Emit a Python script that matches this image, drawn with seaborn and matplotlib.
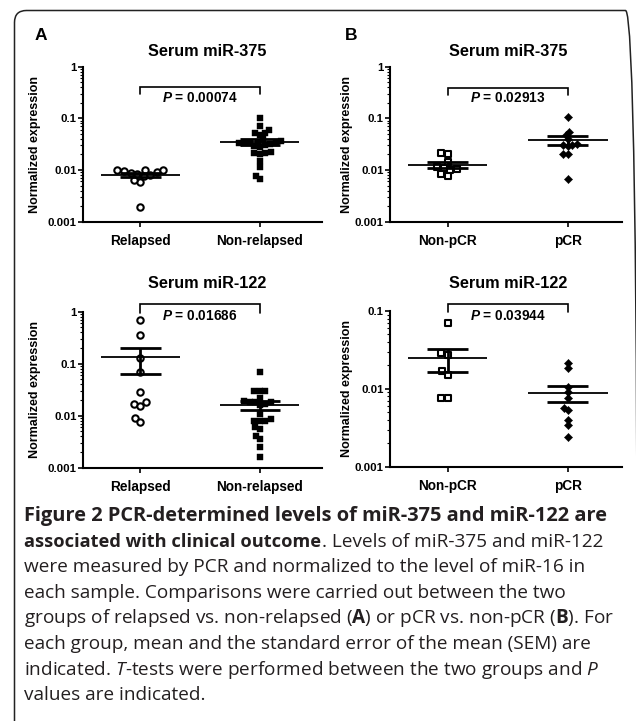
import warnings
warnings.filterwarnings("ignore")
import numpy as np
import pandas as pd
import matplotlib
matplotlib.use("Agg")
import matplotlib.pyplot as plt
import matplotlib.transforms as mtransforms
from matplotlib.patches import FancyBboxPatch
from matplotlib.ticker import LogLocator, NullFormatter
import seaborn as sns

# ---------------- data ----------------
groups_a = ["Relapsed", "Non-relapsed"]
groups_b = ["Non-pCR", "pCR"]

mir375_relapsed = [0.0019, 0.0058, 0.0065, 0.0075, 0.0080, 0.0085, 0.0088,
                   0.0090, 0.0095, 0.0098, 0.0100, 0.0102]
mir375_nonrelapsed = [0.102, 0.072, 0.059, 0.052, 0.051, 0.047, 0.039, 0.036,
                      0.035, 0.034, 0.034, 0.033, 0.033, 0.032, 0.031, 0.029,
                      0.028, 0.022, 0.021, 0.021, 0.020, 0.015, 0.0115, 0.0078,
                      0.0067]
mir122_relapsed = [0.69, 0.35, 0.13, 0.068, 0.028, 0.018, 0.0165, 0.0156,
                   0.0092, 0.0075]
mir122_nonrelapsed = [0.068, 0.030, 0.030, 0.030, 0.022, 0.019, 0.018, 0.018,
                      0.018, 0.017, 0.016, 0.011, 0.0085, 0.008, 0.008, 0.0078,
                      0.006, 0.0055, 0.0041, 0.0035, 0.0025, 0.0016]
mir375_nonpcr = [0.021, 0.020, 0.014, 0.0115, 0.011, 0.0105, 0.010, 0.0083, 0.0076]
mir375_pcr = [0.105, 0.055, 0.048, 0.040, 0.032, 0.031, 0.030, 0.029, 0.020,
              0.020, 0.0066]
mir122_nonpcr = [0.0695, 0.029, 0.027, 0.017, 0.015, 0.0077, 0.0076]
mir122_pcr = [0.0217, 0.0185, 0.0106, 0.0092, 0.0076, 0.0057, 0.0054, 0.0040,
              0.0034, 0.0024]

titles = ["Serum miR-375", "Serum miR-122"]
panel_letters = ["A", "B"]
p_values = ["0.00074", "0.02913", "0.01686", "0.03944"]
ticks_3dec = [0.001, 0.01, 0.1, 1]
ticklabels_3dec = ["0.001", "0.01", "0.1", "1"]
ticks_2dec = [0.001, 0.01, 0.1]
ticklabels_2dec = ["0.001", "0.01", "0.1"]
y_label = "Normalized expression"

# caption: each line is a list of (text, is_heading) segments
caption_lines = [
    [("Figure 2 PCR-determined levels of miR-375 and miR-122 are", True)],
    [("associated with clinical outcome", True), (". Levels of miR-375 and miR-122", False)],
    [("were measured by PCR and normalized to the level of miR-16 in", False)],
    [("each sample. Comparisons were carried out between the two", False)],
    [(r"groups of relapsed vs. non-relapsed ($\mathbf{A}$) or pCR vs. non-pCR ($\mathbf{B}$). For", False)],
    [("each group, mean and the standard error of the mean (SEM) are", False)],
    [(r"indicated. $\mathit{T}$-tests were performed between the two groups and $\mathit{P}$", False)],
    [("values are indicated.", False)],
]

# ---------------- style ----------------
sns.set_theme(style="ticks")
plt.rcParams["font.family"] = ["Liberation Sans", "DejaVu Sans"]
plt.rcParams["mathtext.fontset"] = "custom"
plt.rcParams["mathtext.rm"] = "Open Sans"
plt.rcParams["mathtext.sf"] = "Open Sans"
plt.rcParams["mathtext.it"] = "Open Sans:italic"
plt.rcParams["mathtext.bf"] = "Open Sans:bold"
try:
    plt.rcParams["mathtext.bfit"] = "Liberation Sans:italic:bold"
    P_TXT = r"$\mathbfit{P}$"
except Exception:
    P_TXT = r"$\mathit{P}$"

W, H = 636, 721
fig = plt.figure(figsize=(W / 100, H / 100), dpi=100)
fig.patch.set_facecolor("white")

SWARM_LAYOUT_FACTOR = 0.7
swarm_collections = []


def fx(px):
    return px / W


def fy(py):
    return 1 - py / H


def make_ax(left, right, top, bottom):
    return fig.add_axes([fx(left), fy(bottom), (right - left) / W, (bottom - top) / H])


def draw_panel(ax, groups, v0, v1, styles, ticks, ticklabels, pval, bracket, xlim, ylab_x):
    df = pd.DataFrame({"group": [groups[0]] * len(v0) + [groups[1]] * len(v1),
                       "value": list(v0) + list(v1)})
    for g, st in zip(groups, styles):
        sub = df[df["group"] == g]
        st = dict(st)
        disp_size = st.pop("size")
        n_before = len(ax.collections)
        sns.swarmplot(data=sub, x="group", y="value", order=groups, ax=ax,
                      log_scale=True, zorder=2, size=disp_size * SWARM_LAYOUT_FACTOR, **st)
        for coll in ax.collections[n_before:]:
            swarm_collections.append((coll, disp_size))
    ax.set_yscale("log")
    ax.set_ylim(ticks[0], ticks[-1])
    ax.set_xlim(*xlim)

    for i, vals in enumerate([v0, v1]):
        arr = np.asarray(vals, dtype=float)
        m = arr.mean()
        s = arr.std(ddof=1) / np.sqrt(len(arr))
        ax.hlines(m, i - 0.33, i + 0.33, colors="black", lw=1.3, zorder=4)
        ax.hlines([m - s, m + s], i - 0.17, i + 0.17, colors="black", lw=2.0, zorder=4)
        ax.vlines(i, m - s, m + s, colors="black", lw=2.0, zorder=4)

    trans = mtransforms.blended_transform_factory(ax.transData, ax.transAxes)
    ytop, ybot, ytxt = bracket
    ax.plot([0, 0, 1, 1], [ybot, ytop, ytop, ybot], transform=trans, color="black",
            lw=1.2, clip_on=False, solid_joinstyle="miter")
    ax.text(0.5, ytxt, P_TXT + " = " + pval, transform=trans, ha="center", va="center",
            fontsize=9.8, fontweight="bold", color="black")

    sns.despine(ax=ax)
    for sp in ["left", "bottom"]:
        ax.spines[sp].set_linewidth(1.5)
        ax.spines[sp].set_color("black")
    ax.set_yticks(ticks)
    ax.set_yticklabels(ticklabels)
    ax.yaxis.set_minor_locator(LogLocator(base=10, subs=np.arange(2, 10) * 1.0, numticks=20))
    ax.yaxis.set_minor_formatter(NullFormatter())
    ax.tick_params(axis="y", which="major", length=3.5, width=1.2, labelsize=8.2, pad=1,
                   colors="black")
    ax.tick_params(axis="y", which="minor", length=2.0, width=0.8, colors="black")
    ax.tick_params(axis="x", which="major", length=3.5, width=1.2, labelsize=9.8, pad=5.5,
                   colors="black")
    for lab in ax.get_yticklabels() + ax.get_xticklabels():
        lab.set_fontweight("bold")
    ax.set_xlabel("")
    ax.set_ylabel(y_label, fontsize=9, fontweight="bold", color="black", va="center")
    ax.yaxis.set_label_coords(ylab_x, 0.5)
    ax.grid(False)


open_circle = dict(marker="o", size=4.6, color="white", edgecolor="black", linewidth=1.5)
filled_square = dict(marker="s", size=5.0, color="black", edgecolor="black", linewidth=0.3)
open_square = dict(marker="s", size=4.6, color="white", edgecolor="black", linewidth=1.5)
filled_diamond = dict(marker="D", size=4.2, color="black", edgecolor="black", linewidth=0.3)

ax_a1 = make_ax(83, 322, 66.7, 221.7)
ax_b1 = make_ax(390, 622, 66.7, 221.7)
ax_a2 = make_ax(83, 322, 311.7, 467.7)
ax_b2 = make_ax(390, 622, 311, 466.7)

draw_panel(ax_a1, groups_a, mir375_relapsed, mir375_nonrelapsed,
           [open_circle, filled_square], ticks_3dec, ticklabels_3dec, p_values[0],
           (0.871, 0.824, 0.800), (-0.48, 1.52), (35 - 83) / 239)
draw_panel(ax_b1, groups_b, mir375_nonpcr, mir375_pcr,
           [open_square, filled_diamond], ticks_3dec, ticklabels_3dec, p_values[1],
           (0.865, 0.818, 0.795), (-0.48, 1.45), (347 - 390) / 232)
draw_panel(ax_a2, groups_a, mir122_relapsed, mir122_nonrelapsed,
           [open_circle, filled_square], ticks_3dec, ticklabels_3dec, p_values[2],
           (1.049, 0.994, 0.975), (-0.48, 1.52), (35 - 83) / 239)
draw_panel(ax_b2, groups_b, mir122_nonpcr, mir122_pcr,
           [open_square, filled_diamond], ticks_2dec, ticklabels_2dec, p_values[3],
           (1.045, 0.994, 0.970), (-0.48, 1.45), (347 - 390) / 232)

# titles and panel letters
for (cx, base, t) in [(207, 55.5, titles[0]), (508, 55.5, titles[0]),
                      (207, 287.5, titles[1]), (508, 287.5, titles[1])]:
    fig.text(fx(cx), fy(base), t, ha="center", va="baseline", fontsize=11.7,
             fontweight="bold", color="black")
fig.text(fx(35), fy(40), panel_letters[0], ha="left", va="baseline", fontsize=12.5,
         fontweight="bold", color="black")
fig.text(fx(345), fy(40), panel_letters[1], ha="left", va="baseline", fontsize=12.5,
         fontweight="bold", color="black")

# frame (rounded box, bottom and right edge outside the image)
frame = FancyBboxPatch((14.5, -40), 623, 750.5,
                       boxstyle="round,pad=0,rounding_size=12",
                       transform=mtransforms.IdentityTransform(), fill=False,
                       lw=1.1, ec="#222222", clip_on=False)
fig.add_artist(frame)

# compute the swarms with compact spacing, then freeze them and enlarge markers
fig.canvas.draw()
for coll, disp in swarm_collections:
    if "draw" in coll.__dict__:
        del coll.__dict__["draw"]
    coll.set_sizes([disp ** 2])

renderer = fig.canvas.get_renderer()


def text_width(txt, fs, weight):
    probe = fig.text(0, 0, txt, fontsize=fs, family="Open Sans", fontweight=weight)
    w = probe.get_window_extent(renderer).width
    probe.remove()
    return w


# caption font sizes fitted to measured line widths of the reference
x0 = 24
reg_fs = 11 * 562.0 / text_width(caption_lines[2][0][0], 11, "normal")
head_fs = 11 * 585.0 / text_width(caption_lines[0][0][0], 11, "bold")
rest_w = text_width(caption_lines[1][1][0], reg_fs, "normal")
head2_target = (602 - x0) - rest_w
head2_fs = 11 * head2_target / text_width(caption_lines[1][0][0], 11, "bold")
head2_fs = min(head_fs, max(head2_fs, 0.9 * head_fs))

baselines = [521, 547, 572, 598, 623, 649, 675, 700]
for li, (line, b) in enumerate(zip(caption_lines, baselines)):
    x = x0
    for txt, heading in line:
        if heading:
            fs = head_fs if li == 0 else head2_fs
        else:
            fs = reg_fs
        t = fig.text(fx(x), fy(b), txt, ha="left", va="baseline", fontsize=fs,
                     family="Open Sans", fontweight="bold" if heading else "normal",
                     color="#231f20")
        x = t.get_window_extent(renderer).x1 + 0.5

fig.savefig("out.png", dpi=100, facecolor="white")
